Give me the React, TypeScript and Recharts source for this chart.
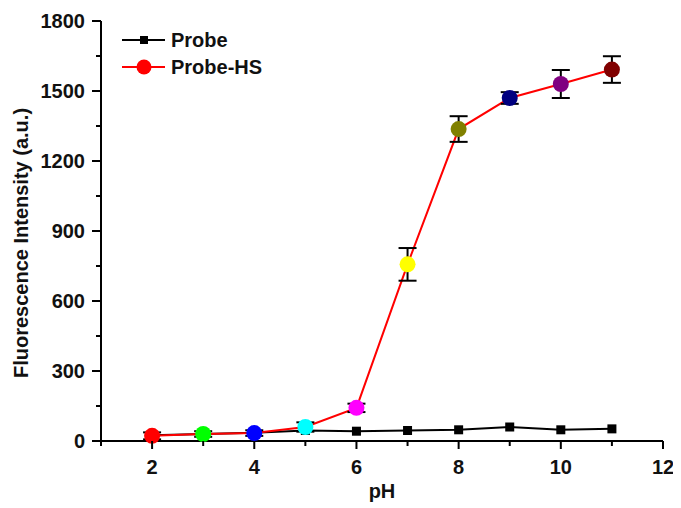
import React from 'react';
import {
  ComposedChart, Line, XAxis, YAxis, ErrorBar,
} from 'recharts';

const pH = [2, 3, 4, 5, 6, 7, 8, 9, 10, 11];
const probe = [25, 30, 35, 45, 42, 45, 48, 60, 48, 52];
const probeHS = [22, 30, 34, 60, 142, 757, 1337, 1470, 1530, 1592];
const probeHSErr = [15, 12, 12, 20, 18, 70, 55, 25, 60, 57];
const pointColors = ['#FF0000', '#00FF00', '#0000FF', '#00FFFF', '#FF00FF', '#FFFF00', '#808000', '#000080', '#800080', '#800000'];
const xTicks = [1, 2, 3, 4, 5, 6, 7, 8, 9, 10, 11, 12];
const yTicks = [0, 150, 300, 450, 600, 750, 900, 1050, 1200, 1350, 1500, 1650, 1800];

const data = pH.map((p, i) => ({ pH: p, probe: probe[i], hs: probeHS[i], err: probeHSErr[i] }));

const FONT = '"Liberation Sans", Arial, sans-serif';

const XTick = ({ x, y, payload }: any) => {
  const major = payload.value % 2 === 0;
  return (
    <g>
      <line x1={x} x2={x} y1={y} y2={y + (major ? 8 : 5)} stroke="#000" strokeWidth={2} />
      {major && (
        <text x={x} y={y + 33} textAnchor="middle" fontFamily={FONT} fontWeight="bold" fontSize={20} fill="#111">
          {payload.value}
        </text>
      )}
    </g>
  );
};

const YTick = ({ x, y, payload }: any) => {
  const major = payload.value % 300 === 0;
  return (
    <g>
      <line x1={x} x2={x - (major ? 9 : 5)} y1={y} y2={y} stroke="#000" strokeWidth={2} />
      {major && (
        <text x={x - 16} y={y + 7} textAnchor="end" fontFamily={FONT} fontWeight="bold" fontSize={20} fill="#111">
          {payload.value}
        </text>
      )}
    </g>
  );
};

const HSDot = ({ cx, cy, index }: any) => (
  <circle key={`hs-${index}`} cx={cx} cy={cy} r={8} fill={pointColors[index]} />
);

const ProbeDot = ({ cx, cy, index }: any) => (
  <rect key={`p-${index}`} x={cx - 4.5} y={cy - 4.5} width={9} height={9} fill="#000" />
);

const YTitle = () => (
  <text x={20} y={235} transform="rotate(-90, 20, 235)" textAnchor="middle" fontFamily={FONT} fontWeight="bold" fontSize={20} fill="#111">
    Fluorescence Intensity (a.u.)
  </text>
);

const XTitle = () => (
  <text x={374} y={490} textAnchor="middle" fontFamily={FONT} fontWeight="bold" fontSize={20} fill="#111">
    pH
  </text>
);

const LegendBox = () => (
  <svg width={180} height={60}>
    <line x1={2} x2={45} y1={15} y2={15} stroke="#000" strokeWidth={2} />
    <rect x={20} y={11} width={8} height={8} fill="#000" />
    <text x={51} y={22} fontFamily={FONT} fontWeight="bold" fontSize={20} fill="#111">Probe</text>
    <line x1={2} x2={45} y1={42} y2={42} stroke="#FF0000" strokeWidth={2} />
    <circle cx={24} cy={42} r={7.5} fill="#FF0000" />
    <text x={51} y={49} fontFamily={FONT} fontWeight="bold" fontSize={20} fill="#111">Probe-HS</text>
  </svg>
);

export default function App() {
  return (
    <div style={{ width: 673, height: 500, position: 'relative', fontFamily: FONT }}>
      <ComposedChart width={673} height={500} data={data} margin={{ top: 13, right: 18, left: 33, bottom: 37 }}>
        <XAxis
          dataKey="pH" type="number" domain={[1, 12]} ticks={xTicks}
          tick={<XTick />} tickLine={false} tickSize={0} tickMargin={0}
          axisLine={{ stroke: '#000', strokeWidth: 2 }} height={30}
          label={<XTitle />}
        />
        <XAxis xAxisId="top" orientation="top" dataKey="pH" type="number" domain={[1, 12]} tick={false} tickLine={false} height={0} axisLine={{ stroke: '#000', strokeWidth: 2 }} />
        <YAxis
          type="number" domain={[0, 1800]} ticks={yTicks} width={60}
          tick={<YTick />} tickLine={false} tickSize={0} tickMargin={0}
          axisLine={{ stroke: '#000', strokeWidth: 2 }}
          label={<YTitle />}
        />
        <YAxis yAxisId="right" orientation="right" domain={[0, 1800]} tick={false} tickLine={false} width={0} axisLine={{ stroke: '#000', strokeWidth: 2 }} />
        <Line dataKey="probe" stroke="#000" strokeWidth={2} dot={<ProbeDot />} activeDot={false} isAnimationActive={false} />
        <Line dataKey="hs" stroke="#FF0000" strokeWidth={2} dot={<HSDot />} activeDot={false} isAnimationActive={false} />
        <Line dataKey="hs" stroke="none" dot={false} activeDot={false} legendType="none" isAnimationActive={false}>
          <ErrorBar dataKey="err" direction="y" width={9} stroke="#000" strokeWidth={2} />
        </Line>
      </ComposedChart>
      <div style={{ position: 'absolute', left: 112, top: 17 }}>
        <LegendBox />
      </div>
    </div>
  );
}
